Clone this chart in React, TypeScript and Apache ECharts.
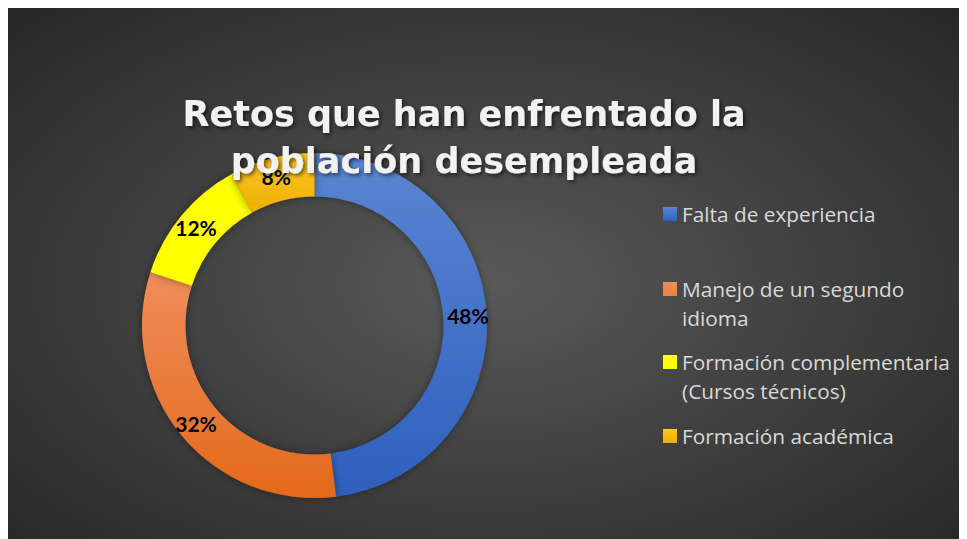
import React, { useEffect, useRef } from "react";
import * as echarts from "echarts";

const categories = [
  "Falta de experiencia",
  "Manejo de un segundo idioma",
  "Formación complementaria (Cursos técnicos)",
  "Formación académica",
];
const values = [48, 32, 12, 8];
const legendLabels = [
  "Falta de experiencia",
  "Manejo de un segundo\nidioma",
  "Formación complementaria\n(Cursos técnicos)",
  "Formación académica",
];
const titleText = "Retos que han enfrentado la\npoblación desempleada";

const sliceColors = [
  ["#5B85D3", "#2C60BD"],
  ["#F08D5A", "#E3691A"],
  ["#FFFF00", "#FFFF00"],
  ["#FFC629", "#EDB000"],
];
const legendColors = ["#4472C4", "#ED7D31", "#FFFF00", "#FFC000"];
const legendTops = [191.5, 266.5, 339.5, 413.5];

export default function App() {
  const ref = useRef<HTMLDivElement>(null);
  useEffect(() => {
    document.documentElement.style.overflow = "hidden";
    document.body.style.overflow = "hidden";
    const chart = echarts.init(ref.current!, null, { renderer: "svg" });
    const twoLineIcon = "path://M0,0H14V14H0Z M0,42.9H0.1V43H0Z";
    const legends = categories.map((c, i) => {
      const twoLine = legendLabels[i].includes("\n");
      return {
        orient: "vertical",
        left: 655,
        top: legendTops[i],
        padding: 0,
        data: [{ name: c, icon: twoLine ? twoLineIcon : "rect" }],
        itemWidth: 14,
        itemHeight: twoLine ? 43 : 14,
        formatter: () => legendLabels[i],
        selectedMode: false,
        textStyle: {
          color: "#D9D9D9",
          fontFamily: "Open Sans",
          fontSize: 20.8,
          lineHeight: 29,
        },
      };
    });
    chart.setOption({
      animation: false,
      backgroundColor: "transparent",
      title: {
        text: titleText,
        left: 456,
        top: 82,
        padding: 0,
        textAlign: "center",
        textStyle: {
          color: "#F2F2F2",
          fontFamily: "DejaVu Sans",
          fontWeight: "bold",
          fontSize: 35,
          lineHeight: 47,
          textShadowColor: "rgba(0,0,0,0.6)",
          textShadowBlur: 4,
          textShadowOffsetX: 2,
          textShadowOffsetY: 2,
        },
      },
      legend: legends,
      series: [
        {
          type: "pie",
          center: [306.5, 317.5],
          radius: [129, 172.5],
          startAngle: 90,
          clockwise: true,
          label: {
            show: true,
            position: "inside",
            formatter: "{d}%",
            color: "#000000",
            fontFamily: "Lato",
            fontWeight: "bold",
            fontSize: 21,
          },
          labelLine: { show: false },
          emphasis: { disabled: true },
          data: categories.map((c, i) => ({
            name: c,
            value: values[i],
            itemStyle: {
              color: new echarts.graphic.LinearGradient(0, 0, 0, 1, [
                { offset: 0, color: sliceColors[i][0] },
                { offset: 1, color: sliceColors[i][1] },
              ]),
              shadowBlur: 8,
              shadowColor: "rgba(0,0,0,0.4)",
            },
          })),
        },
      ],
      color: legendColors,
    });
    return () => chart.dispose();
  }, []);
  return (
    <div
      ref={ref}
      style={{
        width: 959,
        height: 531,
        background:
          "radial-gradient(ellipse at 50% 52%, #595959 0%, #424242 45%, #272727 100%)",
      }}
    />
  );
}
